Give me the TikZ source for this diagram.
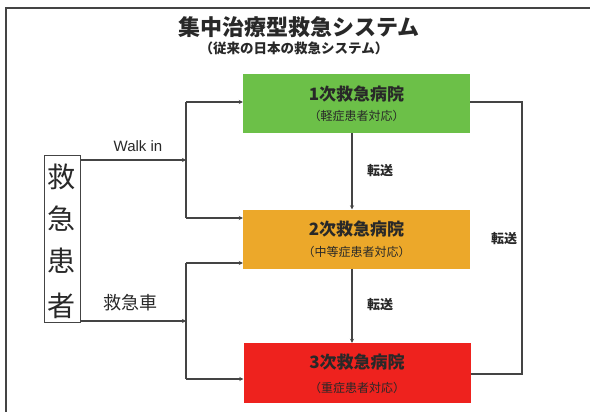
\documentclass[tikz,border=0pt]{standalone}
\usepackage{fontspec}
\setmainfont{Liberation Sans}
\newfontfamily\cjk{Noto Sans CJK JP}
\usetikzlibrary{arrows.meta}
\definecolor{hgreen}{RGB}{108,192,72}
\definecolor{horange}{RGB}{236,168,42}
\definecolor{hred}{RGB}{238,34,30}
\definecolor{lnc}{RGB}{68,68,68}
\definecolor{txc}{RGB}{40,40,40}
\tikzset{
  hosp/.style={minimum width=227pt, minimum height=59pt, inner sep=0pt, draw=none},
  conn/.style={draw=lnc, line width=1.1pt},
  arr/.style={conn, -{Stealth[length=4pt,width=4pt]}},
  lbl/.style={text=txc, inner sep=1pt},
  hname/.style={lbl, font=\cjk\bfseries\fontsize{17}{19}\selectfont},
  hsub/.style={lbl, font=\cjk\fontsize{12}{14}\selectfont},
  pchar/.style={lbl, font=\cjk\fontsize{28}{30}\selectfont},
  tlbl/.style={lbl, font=\cjk\bfseries\fontsize{13}{15}\selectfont},
}
\begin{document}
\begin{tikzpicture}[x=1pt,y=-1pt]
\useasboundingbox (0,0) rectangle (590,412);
% frame
\draw[lnc, line width=1.5pt] (6,412) -- (6,8) -- (590,8);
% title
\node[lbl] (title) at (299,27) {\cjk\bfseries\fontsize{22}{24}\selectfont 集中治療型救急システム};
\node[lbl] (subtitle) at (294,48) {\cjk\bfseries\fontsize{13.5}{15}\selectfont （従来の日本の救急システム）};
% hospitals
\node[hosp, fill=hgreen] (h1) at (356.5,103.5) {};
\node[hname] (h1a) at (356.5,94) {1次救急病院};
\node[hsub] (h1b) at (356.5,116) {（軽症患者対応）};
\node[hosp, fill=horange] (h2) at (356.5,239) {};
\node[hname] (h2a) at (356.5,229) {2次救急病院};
\node[hsub] (h2b) at (356.5,252) {（中等症患者対応）};
\node[hosp, fill=hred, minimum height=60pt] (h3) at (357,373) {};
\node[hname] (h3a) at (357,362) {3次救急病院};
\node[hsub] (h3b) at (357,388) {（重症患者対応）};
% patients
\node[draw=lnc, line width=0.9pt, minimum width=36pt, minimum height=167pt, inner sep=0pt] (pat) at (62,239) {};
\node[pchar] (p1) at (62,177) {救};
\node[pchar] (p2) at (62,219) {急};
\node[pchar] (p3) at (62,261) {患};
\node[pchar] (p4) at (62,306) {者};
% branch coordinates
\coordinate (wa) at (186,160);
\coordinate (wt) at (186,102);
\coordinate (wb) at (186,218);
\coordinate (aa) at (186,321);
\coordinate (at2) at (186,263);
\coordinate (ab) at (186,379);
% walk in
\draw[arr] (pat.east |- wa) -- (wa);
\node[lbl] (walk) at (138,146) {\fontsize{15}{17}\selectfont Walk in};
\draw[conn] (wt) -- (wb);
\draw[arr] (wt) -- (h1.west |- wt);
\draw[arr] (wb) -- (h2.west |- wb);
% ambulance
\draw[arr] (pat.east |- aa) -- (aa);
\node[lbl] (amb) at (130,303) {\cjk\fontsize{18}{20}\selectfont 救急車};
\draw[conn] (at2) -- (ab);
\draw[arr] (at2) -- (h2.west |- at2);
\draw[arr] (ab) -- (h3.west |- ab);
% transfers
\draw[arr] (h1.south -| 352,0) -- (h2.north -| 352,0);
\node[tlbl] (t1) at (380,171) {転送};
\draw[arr] (h2.south -| 352,0) -- (h3.north -| 352,0);
\node[tlbl] (t2) at (380,305) {転送};
\coordinate (r1) at (522,102);
\coordinate (r2) at (522,374);
\draw[conn] (h1.east |- r1) -- (r1) -- (r2) -- (h3.east |- r2);
\node[tlbl] (t3) at (504,239) {転送};
\end{tikzpicture}
\end{document}
